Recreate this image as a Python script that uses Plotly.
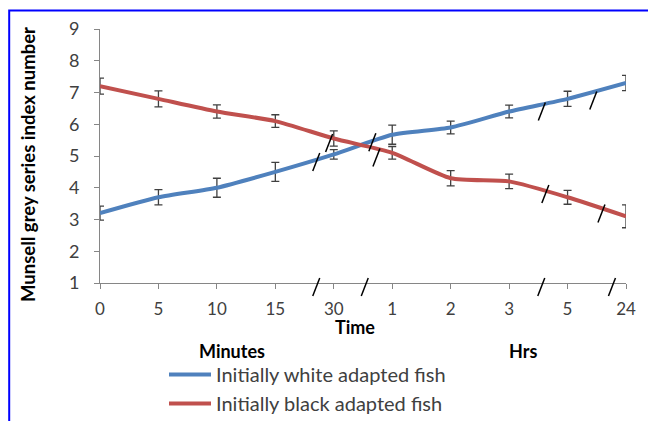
import plotly.graph_objects as go

tick_labels = ["0", "5", "10", "15", "30", "1", "2", "3", "5", "24"]
white_adapted = [3.2, 3.7, 4.0, 4.5, 5.05, 5.67, 5.9, 6.4, 6.8, 7.3]
white_err = [0.22, 0.24, 0.3, 0.3, 0.15, 0.3, 0.2, 0.2, 0.24, 0.24]
black_adapted = [7.2, 6.8, 6.4, 6.1, 5.55, 5.1, 4.3, 4.2, 3.7, 3.1]
black_err = [0.25, 0.25, 0.21, 0.2, 0.24, 0.2, 0.24, 0.23, 0.22, 0.36]
series_names = ["Initially white adapted fish", "Initially black adapted fish"]

x_idx = list(range(len(tick_labels)))
FONT = "Lato, Liberation Sans, sans-serif"

# plot area in screen pixels (page is offset by the body margin of 8px)
OFF = 8
PL, PR, PT, PB = 100, 626, 29, 283
PW, PH = PR - PL, PB - PT


def px(xp):
    return (xp - PL) / PW


def py(yp):
    return (PB - yp) / PH


fig = go.Figure()
for i, (name, vals, errs, col) in enumerate([
    (series_names[0], white_adapted, white_err, "#4F81BD"),
    (series_names[1], black_adapted, black_err, "#C0504D"),
]):
    fig.add_trace(go.Scatter(
        x=x_idx, y=vals, name=name, mode="lines", legendgroup=f"g{i}",
        line=dict(color=col, width=4, shape="spline", smoothing=0.6),
        error_y=dict(type="data", array=errs, visible=True,
                     color="#404040", thickness=1.3, width=4),
        cliponaxis=True,
    ))

# axis break marks (x index) and line break marks (x index, y value)
axis_breaks = [3.70, 4.53, 7.55, 8.76]
line_breaks = [(3.70, 4.81), (3.92, 5.41), (4.66, 5.43), (4.73, 4.95),
               (7.56, 6.40), (8.44, 6.75), (7.62, 3.80), (8.58, 3.19)]
shapes = []
for xb in axis_breaks:
    shapes.append(dict(type="line", xref="x", yref="paper", xsizemode="pixel",
                       ysizemode="pixel", xanchor=xb, yanchor=0,
                       x0=-3.5, x1=3.5, y0=-13, y1=5,
                       line=dict(color="black", width=1.5)))
for xb, yb in line_breaks:
    shapes.append(dict(type="line", xref="x", yref="y", xsizemode="pixel",
                       ysizemode="pixel", xanchor=xb, yanchor=yb,
                       x0=-3.5, x1=3.5, y0=-9, y1=9,
                       line=dict(color="black", width=1.5)))
# blue frame (left and top edges visible)
shapes.append(dict(type="rect", xref="paper", yref="paper",
                   x0=px(OFF + 1.2), x1=px(800), y0=py(600), y1=py(10.5),
                   line=dict(color="#0000FF", width=2), layer="above"))


def label(text, x, y, size, angle=0):
    return dict(text=text, textangle=angle, x=px(x), y=py(y), xref="paper",
                yref="paper", xanchor="center", yanchor="middle",
                showarrow=False, font=dict(size=size, color="black", family=FONT))


annotations = [
    label("<b>Munsell grey series index number</b>", 28, 165, 18.5, -90),
    label("<b>Time</b>", 355, 327, 18),
    label("<b>Minutes</b>", 232, 351, 18),
    label("<b>Hrs</b>", 523, 351, 18),
]

fig.update_layout(
    width=656, height=421,
    margin=dict(l=PL - OFF, r=656 + OFF - PR, t=PT - OFF, b=421 + OFF - PB,
                autoexpand=False),
    paper_bgcolor="white", plot_bgcolor="white",
    font=dict(family=FONT, color="#404040"),
    xaxis=dict(range=[0, 9], tickvals=x_idx, ticktext=tick_labels,
               showgrid=False, zeroline=False, showline=True,
               linecolor="#868686", linewidth=1, ticks="outside", ticklen=5,
               tickcolor="#868686", tickfont=dict(size=17, color="#404040"),
               ticklabelstandoff=6),
    yaxis=dict(range=[1, 9], dtick=1, showgrid=False, zeroline=False,
               showline=True, linecolor="#868686", linewidth=1,
               ticks="outside", ticklen=5, tickcolor="#868686",
               tickfont=dict(size=18, color="#404040"), ticklabelstandoff=11),
    showlegend=True,
    legend=dict(x=px(164), y=py(355), xanchor="left", yanchor="top",
                font=dict(size=20, color="#404040", family=FONT),
                bgcolor="rgba(0,0,0,0)", tracegroupgap=0, itemwidth=42,
                traceorder="grouped"),
    shapes=shapes,
    annotations=annotations,
)

fig.write_html("out.html")
